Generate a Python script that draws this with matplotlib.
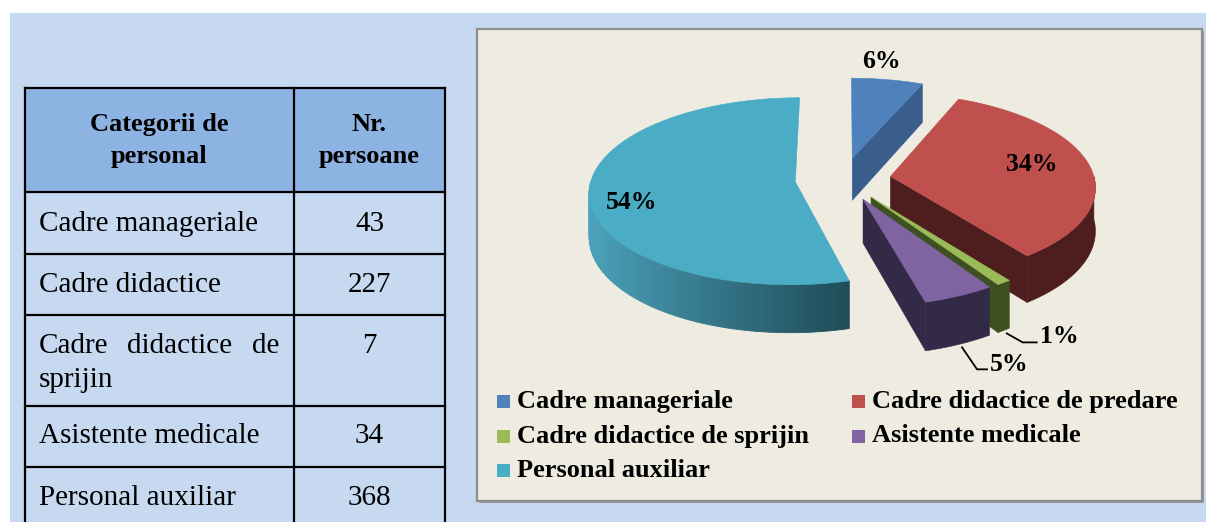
import numpy as np
import matplotlib
matplotlib.use("Agg")
import matplotlib.pyplot as plt
from matplotlib.patches import Rectangle, Polygon

# ---------------- data ----------------
table_header = ["Categorii de\npersonal", "Nr.\npersoane"]
table_categories = ["Cadre manageriale", "Cadre didactice", "Cadre didactice de sprijin",
                    "Asistente medicale", "Personal auxiliar"]
table_values = [43, 227, 7, 34, 368]

pie_categories = ["Cadre manageriale", "Cadre didactice de predare", "Cadre didactice de sprijin",
                  "Asistente medicale", "Personal auxiliar"]
pie_values = [43, 227, 7, 34, 368]
pie_labels = ["6%", "34%", "1%", "5%", "54%"]

# ---------------- style ----------------
plt.rcParams['font.family'] = ['Liberation Serif', 'DejaVu Serif']
W, H = 1206, 522
PAGE_BG = '#C6D9F1'
HEAD_BG = '#8DB3E2'
CHART_BG = '#EEECE1'
top_colors = ['#4F81BD', '#C0504D', '#9BBB59', '#8064A2', '#4BACC6']
side_colors = ['#3A5E8C', '#4E1E1E', '#3E4F22', '#322A46', None]
cyan_wall_left = np.array([76, 163, 188]) / 255
cyan_wall_right = np.array([31, 76, 89]) / 255

fig = plt.figure(figsize=(W / 100, H / 100), dpi=100)
fig.patch.set_facecolor('white')
ax = fig.add_axes([0, 0, 1, 1])
ax.set_xlim(0, W)
ax.set_ylim(H, 0)
ax.axis('off')

# page background
ax.add_patch(Rectangle((10, 13), W - 10, H - 13, facecolor=PAGE_BG, edgecolor='none', zorder=0))

# ---------------- table ----------------
TX0, TX1, TXM = 25, 445, 294
row_edges = [88, 192, 254, 315, 406, 467, 540]
ax.add_patch(Rectangle((TX0, row_edges[0]), TX1 - TX0, row_edges[1] - row_edges[0],
                       facecolor=HEAD_BG, edgecolor='none', zorder=1))
lw_tab = 1.6
for y in row_edges[:-1]:
    ax.plot([TX0, TX1], [y, y], color='black', lw=lw_tab, zorder=3, solid_capstyle='projecting')
for x in (TX0, TXM, TX1):
    ax.plot([x, x], [row_edges[0], H + 5], color='black', lw=lw_tab, zorder=3)

head_fs, body_fs = 19, 21
c1 = (TX0 + TXM) / 2
c2 = (TXM + TX1) / 2
for cx_, txt in zip((c1, c2), table_header):
    l1, l2 = txt.split('\n')
    ax.text(cx_, 131, l1, ha='center', va='baseline', fontsize=head_fs, fontweight='bold')
    ax.text(cx_, 163, l2, ha='center', va='baseline', fontsize=head_fs, fontweight='bold')

body_baselines = [231, 292, 353, 443, 505]
TXT_L, TXT_R = 39, 279
fig.canvas.draw()
renderer = fig.canvas.get_renderer()
for i, (cat, val) in enumerate(zip(table_categories, table_values)):
    yb = body_baselines[i]
    if cat == "Cadre didactice de sprijin":
        words = ["Cadre", "didactice", "de"]
        ts = [ax.text(0, yb, w_, ha='left', va='baseline', fontsize=body_fs) for w_ in words]
        widths = [t.get_window_extent(renderer).width for t in ts]
        gap = (TXT_R - TXT_L - sum(widths)) / 2
        x = TXT_L
        for t, wd in zip(ts, widths):
            t.set_x(x)
            x += wd + gap
        ax.text(TXT_L, yb + 34, "sprijin", ha='left', va='baseline', fontsize=body_fs)
    else:
        ax.text(TXT_L, yb, cat, ha='left', va='baseline', fontsize=body_fs)
    ax.text(c2, yb, str(val), ha='center', va='baseline', fontsize=body_fs)

# ---------------- chart box ----------------
BX0, BY0, BX1, BY1 = 477, 29, 1202, 501
ax.add_patch(Rectangle((BX0 + 2, BY0 + 2), BX1 - BX0, BY1 - BY0, facecolor='#9A9A9A',
                       edgecolor='none', zorder=1))
ax.add_patch(Rectangle((BX0, BY0), BX1 - BX0, BY1 - BY0, facecolor=CHART_BG,
                       edgecolor='#8E8E8E', lw=1.6, zorder=1))

# ---------------- 3D pie ----------------
CX, CY = 843, 179       # centre of top face (pixels)
A, B = 204, 92          # ellipse semi-axes
K = 0.10                # perspective strength
D = 43                  # thickness
E = 0.235               # explosion (fraction of radius)


def proj(X, Y, h):
    X = np.asarray(X, float)
    Y = np.asarray(Y, float)
    f = 1.0 / (1.0 + K * Y)
    return CX + A * X * f, CY - B * Y * f + D * h * f


vals = np.array(pie_values, float)
spans = vals / vals.sum() * 360.0
slices = []
start = 90.0
for i, sp in enumerate(spans):
    t2 = start
    t1 = start - sp
    start = t1
    mid = np.radians((t1 + t2) / 2)
    ox, oy = E * np.cos(mid), E * np.sin(mid)
    slices.append(dict(t1=t1, t2=t2, ox=ox, oy=oy, mid=mid))

walls = []   # (depth_key, polygon list, color)
for i, s in enumerate(slices):
    ox, oy = s['ox'], s['oy']
    # radial walls
    for t, normal in ((s['t1'], s['t1'] - 90), (s['t2'], s['t2'] + 90)):
        if np.sin(np.radians(normal)) < -1e-6:
            tr = np.radians(t)
            Xs = [ox, ox + np.cos(tr), ox + np.cos(tr), ox]
            Ys = [oy, oy + np.sin(tr), oy + np.sin(tr), oy]
            hs = [0, 0, 1, 1]
            px, py = proj(Xs, Ys, np.array(hs))
            col = side_colors[i] if side_colors[i] else tuple(cyan_wall_right)
            walls.append((np.mean(Ys), list(zip(px, py)), col))
    # outer curved wall (front part)
    th = np.radians(np.linspace(s['t1'], s['t2'], 600))
    mask = np.sin(th) < 0
    if mask.sum() > 1:
        thf = th[mask]
        Xa = ox + np.cos(thf)
        Ya = oy + np.sin(thf)
        tx, ty = proj(Xa, Ya, 0)
        bx, by = proj(Xa, Ya, 1)
        if side_colors[i] is not None:
            poly = list(zip(tx, ty)) + list(zip(bx[::-1], by[::-1]))
            walls.append((np.mean(Ya), poly, side_colors[i]))
        else:
            xmin, xmax = tx.min(), tx.max()
            segs = []
            step = 5
            for j in range(0, len(thf) - 1, step):
                k2 = min(j + step + 1, len(thf))
                poly = list(zip(tx[j:k2], ty[j:k2])) + list(zip(bx[j:k2][::-1], by[j:k2][::-1]))
                fx = (np.mean(tx[j:k2]) - xmin) / (xmax - xmin)
                fx = np.clip(fx, 0, 1) ** 0.9
                col = tuple(cyan_wall_left * (1 - fx) + cyan_wall_right * fx)
                segs.append((poly, col))
            walls.append((np.mean(Ya), segs, 'GRAD'))

walls.sort(key=lambda w_: -w_[0])
for key, poly, col in walls:
    if isinstance(col, str) and col == 'GRAD':
        for p, c in poly:
            ax.add_patch(Polygon(p, closed=True, facecolor=c, edgecolor=c, lw=0.6, zorder=4))
    else:
        ax.add_patch(Polygon(poly, closed=True, facecolor=col, edgecolor=col, lw=0.4, zorder=4))

for i, s in enumerate(slices):
    th = np.radians(np.linspace(s['t1'], s['t2'], 400))
    Xs = np.concatenate([[s['ox']], s['ox'] + np.cos(th)])
    Ys = np.concatenate([[s['oy']], s['oy'] + np.sin(th)])
    px, py = proj(Xs, Ys, 0)
    ax.add_patch(Polygon(list(zip(px, py)), closed=True, facecolor=top_colors[i],
                         edgecolor=top_colors[i], lw=0.4, zorder=5))

# data labels
lab_fs = 18.5
inside_pos = {0: (881, 68), 1: (1032, 171), 4: (632, 209)}
for i, (x, y) in inside_pos.items():
    ax.text(x, y, pie_labels[i], ha='center', va='baseline', fontsize=lab_fs,
            fontweight='bold', zorder=7)

# leader-line labels (anchored at bottom rim of slice)
leader = {2: ((16, 9), 14, 3, 1), 3: ((15, 22), 10, 3, 2)}
for i, ((dx1, dy1), dx2, tgap, ybase) in leader.items():
    s = slices[i]
    ax0, ay0 = proj(s['ox'] + np.cos(s['mid']), s['oy'] + np.sin(s['mid']), 1)
    ax0, ay0 = float(ax0) + 3, float(ay0) + 3
    xs = [ax0, ax0 + dx1, ax0 + dx1 + dx2]
    ys = [ay0, ay0 + dy1, ay0 + dy1]
    ax.plot(xs, ys, color='black', lw=1.3, zorder=6)
    ax.text(xs[-1] + tgap, ys[-1] + ybase, pie_labels[i], ha='left', va='baseline',
            fontsize=lab_fs, fontweight='bold', zorder=7)

# legend (row-wise, two columns)
leg_cols_x = [497, 852]
leg_baselines = [408, 442.5, 477]
sq = 13
for i, cat in enumerate(pie_categories):
    r, c = divmod(i, 2)
    x = leg_cols_x[c]
    yb = leg_baselines[r]
    ax.add_patch(Rectangle((x, yb - sq), sq, sq, facecolor=top_colors[i], edgecolor='none', zorder=6))
    ax.text(x + 20, yb, cat, ha='left', va='baseline', fontsize=19, fontweight='bold', zorder=6)

fig.savefig('out.png', dpi=100, facecolor='white')
